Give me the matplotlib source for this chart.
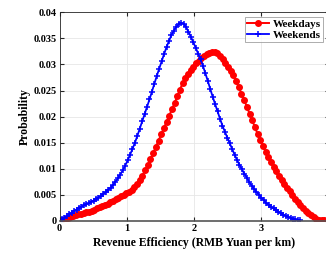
import matplotlib
matplotlib.use("Agg")
import matplotlib.pyplot as plt
import numpy as np

# 工作日 / 周末 收益效率分布
weekdays = [0, 0.0002, 0.0004, 0.0006, 0.0008, 0.0010, 0.0011, 0.0013, 0.0014, 0.0016,
            0.0017, 0.0018, 0.0020, 0.0022, 0.0024, 0.0026, 0.0028, 0.0030, 0.0033, 0.0036,
            0.0039, 0.0042, 0.0045, 0.0047, 0.0050, 0.0053, 0.0056, 0.0060, 0.0065, 0.0071,
            0.0078, 0.0087, 0.0097, 0.0107, 0.0118, 0.0130, 0.0142, 0.0154, 0.0166, 0.0178,
            0.0190, 0.0202, 0.0214, 0.0226, 0.0239, 0.0252, 0.0264, 0.0274, 0.0282, 0.0289,
            0.0296, 0.0302, 0.0307, 0.0312, 0.0316, 0.0320, 0.0322, 0.0324, 0.0324, 0.0322,
            0.0317, 0.0310, 0.0302, 0.0295, 0.0288, 0.0279, 0.0268, 0.0256, 0.0244, 0.0232,
            0.0219, 0.0206, 0.0193, 0.0180, 0.0167, 0.0155, 0.0144, 0.0133, 0.0123, 0.0113,
            0.0104, 0.0095, 0.0087, 0.0079, 0.0071, 0.0064, 0.0057, 0.0050, 0.0043, 0.0037,
            0.0031, 0.0025, 0.0020, 0.0015, 0.0011, 0.0007, 0.0004, 0.0002, 0.0001, 0.0001]
weekends = [0, 0.0003, 0.0006, 0.0009, 0.0013, 0.0016, 0.0019, 0.0022, 0.0025, 0.0027,
            0.0030, 0.0032, 0.0034, 0.0037, 0.0039, 0.0042, 0.0045, 0.0048, 0.0052, 0.0056,
            0.0060, 0.0064, 0.0069, 0.0075, 0.0082, 0.0089, 0.0097, 0.0106, 0.0116, 0.0127,
            0.0138, 0.0150, 0.0163, 0.0177, 0.0191, 0.0205, 0.0219, 0.0233, 0.0248, 0.0263,
            0.0278, 0.0292, 0.0306, 0.0320, 0.0333, 0.0345, 0.0356, 0.0365, 0.0372, 0.0377,
            0.0380, 0.0378, 0.0372, 0.0363, 0.0353, 0.0343, 0.0332, 0.0321, 0.0310, 0.0297,
            0.0283, 0.0268, 0.0253, 0.0238, 0.0224, 0.0210, 0.0196, 0.0183, 0.0171, 0.0160,
            0.0149, 0.0138, 0.0127, 0.0117, 0.0108, 0.0099, 0.0091, 0.0083, 0.0075, 0.0068,
            0.0062, 0.0056, 0.0050, 0.0045, 0.0040, 0.0035, 0.0031, 0.0027, 0.0024, 0.0021,
            0.0018, 0.0015, 0.0012, 0.0010, 0.0008, 0.0006, 0.0004, 0.0003, 0.0002, 0.0001]
# 取值范围 (ksdensity 默认网格)
weekdays_range = (0, 3.94)
weekends_range = (0, 3.58)

xticks = [0, 1, 2, 3]
yticks = [0, 0.005, 0.01, 0.015, 0.02, 0.025, 0.03, 0.035, 0.04]
ytick_labels = ['0', '0.005', '0.01', '0.015', '0.02', '0.025', '0.03', '0.035', '0.04']

plt.rcParams['font.family'] = ['Liberation Serif', 'DejaVu Serif']
plt.rcParams['font.weight'] = 'bold'

fig = plt.figure(figsize=(3.26, 2.58), dpi=100)
ax = fig.add_axes([59.5 / 326, 37 / 258, 269 / 326, 208.7 / 258])

x1 = np.linspace(weekdays_range[0], weekdays_range[1], len(weekdays))
x2 = np.linspace(weekends_range[0], weekends_range[1], len(weekends))
ax.plot(x1, weekdays, color='red', lw=1.4, marker='o', ms=4, label='Weekdays')
ax.plot(x2, weekends, color='blue', lw=1.3, marker='+', ms=4.5, mew=1.1, label='Weekends')

ax.set_xlim(0, 4)
ax.set_ylim(0, 0.04)
ax.set_xticks(xticks)
ax.set_yticks(yticks)
ax.set_yticklabels(ytick_labels)
ax.tick_params(direction='in', top=True, right=True, length=3, labelsize=7.5,
               colors='#262626', pad=2)
for lab in ax.get_xticklabels() + ax.get_yticklabels():
    lab.set_fontweight('bold')
    lab.set_color('black')
ax.grid(True, color='#e6e6e6', lw=0.6)
ax.set_axisbelow(True)
for s in ax.spines.values():
    s.set_color('#262626')
    s.set_linewidth(0.6)
ax.spines['bottom'].set_color('#555555')
ax.spines['bottom'].set_linewidth(1.2)

ax.set_xlabel('Revenue Efficiency (RMB Yuan per km)', fontsize=8.5, fontweight='bold', labelpad=3)
ax.set_ylabel('Probability', fontsize=8.5, fontweight='bold', labelpad=2)

leg = ax.legend(loc='upper right', bbox_to_anchor=(325 / 326, 243 / 258),
                bbox_transform=fig.transFigure, fontsize=8, frameon=True, fancybox=False,
                borderpad=0.2, labelspacing=0.1, handlelength=2.0, handletextpad=0.3,
                borderaxespad=0.2)
leg.get_frame().set_edgecolor('#888888')
leg.get_frame().set_linewidth(0.6)
for t in leg.get_texts():
    t.set_fontweight('bold')

fig.savefig('out.png', dpi=100)
